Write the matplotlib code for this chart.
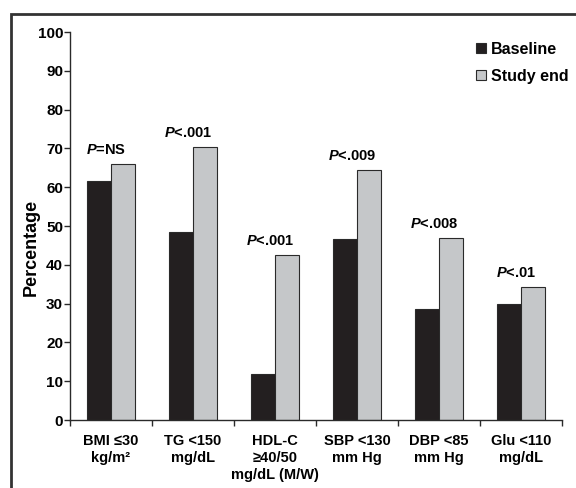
import matplotlib
matplotlib.use("Agg")
import matplotlib.pyplot as plt
import numpy as np
from matplotlib.lines import Line2D
from matplotlib.patches import Rectangle

plt.rcParams['font.family'] = ['Liberation Sans', 'DejaVu Sans']
plt.rcParams['font.weight'] = 'bold'
plt.rcParams['mathtext.fontset'] = 'custom'
plt.rcParams['mathtext.it'] = 'Liberation Sans:italic:bold'
plt.rcParams['mathtext.rm'] = 'Liberation Sans:bold'

categories = ["BMI \u226430\nkg/m\u00b2", "TG <150\nmg/dL", "HDL-C\n\u226540/50\nmg/dL (M/W)",
              "SBP <130\nmm Hg", "DBP <85\nmm Hg", "Glu <110\nmg/dL"]
baseline = [61.7, 48.5, 11.9, 46.6, 28.6, 29.9]
study_end = [65.9, 70.3, 42.5, 64.5, 46.8, 34.4]
p_labels = [r"$\mathit{P}$=NS", r"$\mathit{P}$<.001", r"$\mathit{P}$<.001",
            r"$\mathit{P}$<.009", r"$\mathit{P}$<.008", r"$\mathit{P}$<.01"]
y_ticks = [0, 10, 20, 30, 40, 50, 60, 70, 80, 90, 100]

dark = "#231f20"
gray = "#c5c7c9"
edge = "#2a2a2a"

fig = plt.figure(figsize=(5.76, 4.88), dpi=100)
ax = fig.add_axes([70/576, 1-420/488, (562-70)/576, (420-32)/488])

x = np.arange(len(categories))
w = 0.287
ax.bar(x - w/2, baseline, w, color=dark, edgecolor=edge, linewidth=0.8, label="Baseline")
ax.bar(x + w/2, study_end, w, color=gray, edgecolor=edge, linewidth=0.8, label="Study end")

for i, lab in enumerate(p_labels):
    top = max(baseline[i], study_end[i])
    ax.annotate(lab, (x[i] - 0.06, top), xytext=(0, 5), textcoords="offset points",
                ha="center", va="bottom", fontsize=10.5, fontweight="bold")

ax.set_xlim(-0.5, len(categories) - 0.5)
ax.set_ylim(0, 100)
ax.set_yticks(y_ticks)
ax.set_yticklabels([str(t) for t in y_ticks], fontsize=11, fontweight="bold")
ax.set_xticks(x)
ax.set_xticklabels(categories, fontsize=10.5, fontweight="bold", linespacing=1.3)
ax.tick_params(axis="x", which="major", length=0, pad=10)
ax.set_xticks(np.arange(-0.5, len(categories)), minor=True)
ax.tick_params(axis="x", which="minor", length=4, width=1, color=edge, direction="out")
ax.tick_params(axis="y", length=4, width=1, color=edge, pad=1)

for s in ["top", "right"]:
    ax.spines[s].set_visible(False)
for s in ["left", "bottom"]:
    ax.spines[s].set_color(edge)
    ax.spines[s].set_linewidth(1)

fig.text(31/576, 1-247/488, "Percentage", rotation=90, ha="center", va="center",
         fontsize=13, fontweight="bold")

handles = [Line2D([], [], marker="s", linestyle="none", markersize=7.5, markerfacecolor=dark,
                  markeredgecolor=edge, markeredgewidth=0.8),
           Line2D([], [], marker="s", linestyle="none", markersize=7.5, markerfacecolor=gray,
                  markeredgecolor=edge, markeredgewidth=0.8)]
ax.legend(handles, ["Baseline", "Study end"], loc="upper right",
          bbox_to_anchor=(569/576, 1-42/488), bbox_transform=fig.transFigure,
          frameon=False, fontsize=11.5, handlelength=0.6, handletextpad=0.35,
          labelspacing=0.75, borderaxespad=0, borderpad=0)

fig.patches.append(Rectangle((11/576, -0.2), 1.2, 1.2 - 14/488, transform=fig.transFigure,
                             fill=False, edgecolor="#333333", linewidth=2))

fig.savefig("out.png", dpi=100)
